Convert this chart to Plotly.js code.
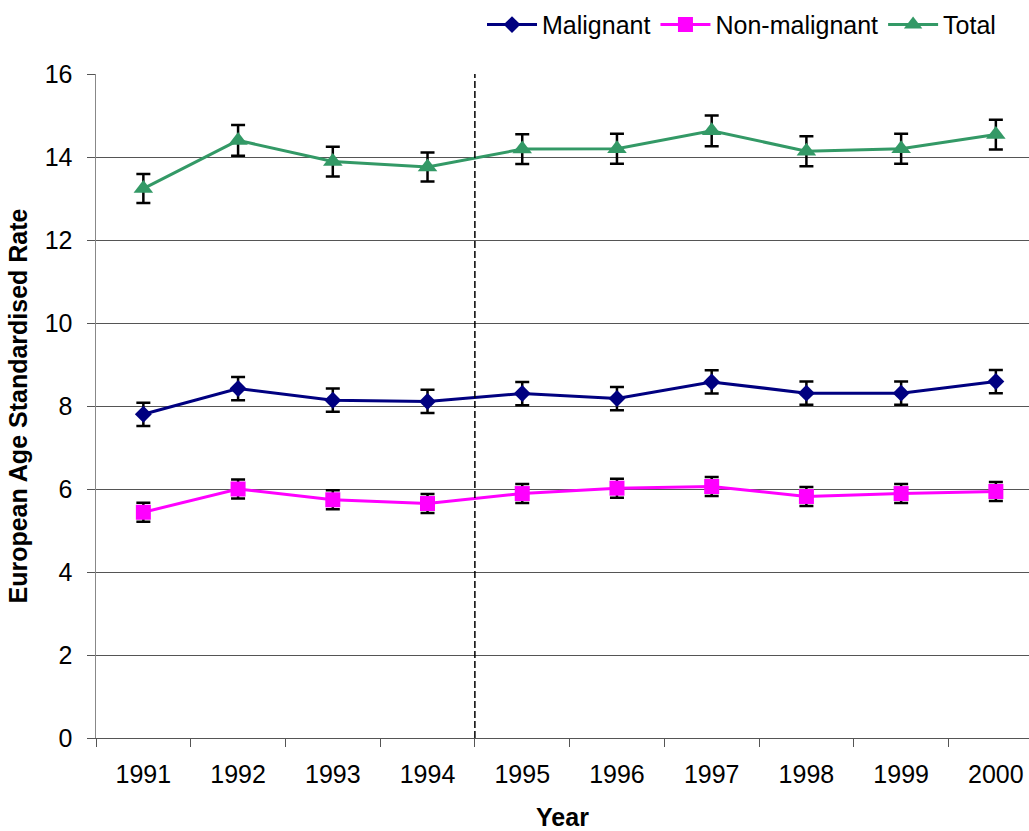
<!DOCTYPE html>
<html>
<head>
<meta charset="utf-8">
<script src="https://cdn.plot.ly/plotly-3.0.1.min.js"></script>
<style>
html,body{margin:0;padding:0;background:#fff;}
#chart{width:1029px;height:831px;}
</style>
</head>
<body>
<div id="chart"></div>
<script>
var years = ["1991","1992","1993","1994","1995","1996","1997","1998","1999","2000"];
var malignant = [7.80, 8.42, 8.14, 8.11, 8.30, 8.18, 8.58, 8.31, 8.31, 8.59];
var malignantErr = [0.28, 0.28, 0.28, 0.28, 0.28, 0.28, 0.28, 0.28, 0.28, 0.28];
var nonMalignant = [5.44, 6.00, 5.74, 5.65, 5.89, 6.02, 6.06, 5.82, 5.89, 5.94];
var nonMalignantErr = [0.23, 0.23, 0.23, 0.23, 0.23, 0.23, 0.23, 0.23, 0.23, 0.23];
var total = [13.24, 14.40, 13.89, 13.76, 14.19, 14.20, 14.63, 14.14, 14.20, 14.54];
var totalErr = [0.35, 0.37, 0.36, 0.35, 0.36, 0.36, 0.37, 0.36, 0.36, 0.36];
var dividerPosition = 3.5; // between 1994 and 1995

var FONT = "Liberation Sans, Arial, sans-serif";
var FS = 25;

function errBars(arr){
  return {type:'data', array:arr, visible:true, color:'#000000', thickness:2.5, width:7};
}

var traces = [
  {x:years, y:malignant, name:'Malignant', type:'scatter', mode:'lines+markers',
   line:{color:'#000080', width:3},
   marker:{symbol:'diamond', size:13, color:'#000080'},
   error_y:errBars(malignantErr)},
  {x:years, y:nonMalignant, name:'Non-malignant', type:'scatter', mode:'lines+markers',
   line:{color:'#FF00FF', width:3},
   marker:{symbol:'square', size:15, color:'#FF00FF'},
   error_y:errBars(nonMalignantErr)},
  {x:years, y:total, name:'Total', type:'scatter', mode:'lines+markers',
   line:{color:'#339966', width:3},
   marker:{symbol:'triangle-up', size:17, color:'#339966'},
   error_y:errBars(totalErr)}
];

var layout = {
  width:1029, height:831,
  margin:{l:96, r:0, t:74, b:93},
  paper_bgcolor:'#ffffff', plot_bgcolor:'#ffffff',
  font:{family:FONT, size:FS, color:'#000000'},
  showlegend:true,
  legend:{orientation:'h', x:0.97, xanchor:'right', y:1.074, yanchor:'middle',
          font:{family:FONT, size:FS, color:'#000'}, bgcolor:'rgba(0,0,0,0)',
          itemwidth:50, traceorder:'normal'},
  xaxis:{type:'category', range:[-0.5, 9.35], tickson:'boundaries',
         ticks:'outside', ticklen:8, tickcolor:'#555', tickwidth:1,
         showline:true, linecolor:'#555', linewidth:1,
         showgrid:false, zeroline:false,
         tickfont:{family:FONT, size:FS, color:'#000'},
         ticklabelstandoff:14,
         title:{text:'<b>Year</b>', font:{family:FONT, size:FS, color:'#000'}, standoff:22},
         automargin:false, fixedrange:true},
  yaxis:{range:[0,16], dtick:2, tick0:0,
         ticks:'outside', ticklen:8, tickcolor:'#555', tickwidth:1,
         showline:true, linecolor:'#888', linewidth:1.5,
         showgrid:true, gridcolor:'#555', gridwidth:1, zeroline:false,
         tickfont:{family:FONT, size:FS, color:'#000'},
         ticklabelstandoff:9,
         title:{text:'<b>European Age Standardised Rate</b>', font:{family:FONT, size:FS, color:'#000'}, standoff:10},
         automargin:false, fixedrange:true},
  shapes:[{type:'line', xref:'x', yref:'y', x0:dividerPosition, x1:dividerPosition, y0:0, y1:16,
           line:{color:'#000', width:1.5, dash:'7px,3px'}}]
};

Plotly.newPlot('chart', traces, layout, {displayModeBar:false, staticPlot:true});
</script>
</body>
</html>
